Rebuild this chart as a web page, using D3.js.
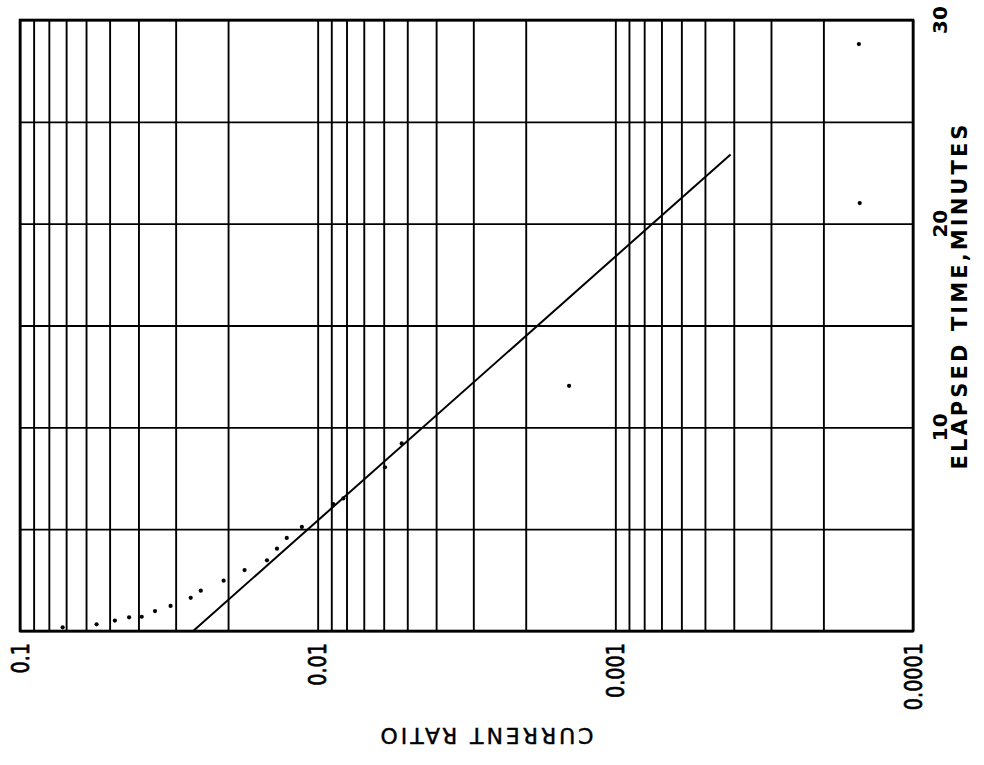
<!DOCTYPE html>
<html>
<head>
<meta charset="utf-8">
<script src="https://cdn.jsdelivr.net/npm/d3@7"></script>
<style>
  html, body { margin: 0; padding: 0; background: #fff; }
  svg { display: block; }
</style>
</head>
<body>
<svg id="chart" width="984" height="765"></svg>
<script>
// ---- data ----
const ratioTickValues = [0.1, 0.01, 0.001, 0.0001];
const ratioTickLabels = ["0.1", "0.01", "0.001", "0.0001"];
const timeTickValues = [10, 20, 30];
const timeTickLabels = ["10", "20", "30"];
const timeGridValues = [0, 5, 10, 15, 20, 25, 30];
const xTitle = "CURRENT RATIO";
const yTitle = "ELAPSED TIME,MINUTES";

// measured points: elapsed time (min) and current ratio
const pointTime  = [0.18, 0.33, 0.51, 0.67, 0.70, 0.98, 1.23, 1.63, 1.98, 2.47, 2.99, 3.47, 4.04, 4.57, 5.11, 6.23, 6.51, 8.04, 9.21, 12.04, 21.01, 28.82];
const pointRatio = [0.0719, 0.0553, 0.0480, 0.0430, 0.0390, 0.0352, 0.0312, 0.0267, 0.0247, 0.0207, 0.0176, 0.0148, 0.0137, 0.0127, 0.0113, 0.00886, 0.00820, 0.00594, 0.00522, 0.00143, 0.000151, 0.000152];

// fitted straight line (semi-log)
const lineTime  = [0, 23.4];
const lineRatio = [0.0262, 0.00041];

// ---- layout ----
const svg = d3.select("#chart");
const pLeft = 20, pRight = 913, pTop = 20, pBottom = 631;

const x = d3.scaleLog().domain([0.1, 0.0001]).range([pLeft, pRight]);
const y = d3.scaleLinear().domain([0, 30]).range([pBottom, pTop]);

// vertical log grid values
const gridRatios = [];
[0.01, 0.001, 0.0001].forEach(base => {
  for (let k = 10; k >= 1; k--) gridRatios.push(+(k * base).toPrecision(6));
});
const uniqGrid = Array.from(new Set(gridRatios));

const gx = svg.append("g")
  .attr("transform", `translate(0,${pTop})`)
  .call(d3.axisTop(x).tickValues(uniqGrid).tickSize(-(pBottom - pTop)).tickFormat(""));
gx.select(".domain").remove();
gx.selectAll(".tick line").attr("stroke", "#000").attr("stroke-width", 1.9);

const gy = svg.append("g")
  .attr("transform", `translate(${pRight},0)`)
  .call(d3.axisRight(y).tickValues(timeGridValues).tickSize(-(pRight - pLeft)).tickFormat(""));
gy.select(".domain").remove();
gy.selectAll(".tick line").attr("stroke", "#000").attr("stroke-width", 1.9);

// border
svg.append("rect")
  .attr("x", pLeft).attr("y", pTop)
  .attr("width", pRight - pLeft).attr("height", pBottom - pTop)
  .attr("fill", "none").attr("stroke", "#000").attr("stroke-width", 2.6);

// fitted line
const lineData = lineTime.map((t, i) => ({t, r: lineRatio[i]}));
svg.append("path")
  .datum(lineData)
  .attr("fill", "none")
  .attr("stroke", "#000")
  .attr("stroke-width", 2)
  .attr("d", d3.line().x(d => x(d.r)).y(d => y(d.t)));

// points
const pts = pointTime.map((t, i) => ({t, r: pointRatio[i]}));
svg.append("g").selectAll("circle")
  .data(pts).enter().append("circle")
  .attr("cx", d => x(d.r))
  .attr("cy", d => y(d.t))
  .attr("r", 2.1)
  .attr("fill", "#000");

// bottom tick labels (rotated -90, condensed)
svg.append("g").selectAll("text")
  .data(ratioTickValues).enter().append("text")
  .attr("transform", d => `translate(${x(d)},643) rotate(-90) scale(0.8,1)`)
  .attr("text-anchor", "end")
  .attr("dy", "0.36em")
  .attr("font-family", "DejaVu Sans, sans-serif")
  .attr("font-size", 24)
  .attr("fill", "#000")
  .attr("stroke", "#000")
  .attr("stroke-width", 0.7)
  .text((d, i) => ratioTickLabels[i]);

// x title (upside-down)
svg.append("text")
  .attr("transform", "translate(487,736) rotate(180)")
  .attr("text-anchor", "middle")
  .attr("dy", "0.36em")
  .attr("font-family", "DejaVu Sans, sans-serif")
  .attr("font-size", 22)
  .attr("textLength", 213)
  .attr("lengthAdjust", "spacing")
  .attr("fill", "#000")
  .attr("stroke", "#000")
  .attr("stroke-width", 0.4)
  .text(xTitle);

// right tick labels
svg.append("g").selectAll("text")
  .data(timeTickValues).enter().append("text")
  .attr("transform", d => `translate(940,${y(d)}) rotate(-90)`)
  .attr("text-anchor", "middle")
  .attr("dy", "0.36em")
  .attr("font-family", "DejaVu Sans, sans-serif")
  .attr("font-weight", "bold")
  .attr("font-size", 20)
  .attr("fill", "#000")
  .text((d, i) => timeTickLabels[i]);

// y title
svg.append("text")
  .attr("transform", "translate(959,297) rotate(-90)")
  .attr("text-anchor", "middle")
  .attr("dy", "0.36em")
  .attr("font-family", "DejaVu Sans, sans-serif")
  .attr("font-weight", "bold")
  .attr("font-size", 21)
  .attr("textLength", 345)
  .attr("lengthAdjust", "spacing")
  .attr("fill", "#000")
  .text(yTitle);
</script>
</body>
</html>
